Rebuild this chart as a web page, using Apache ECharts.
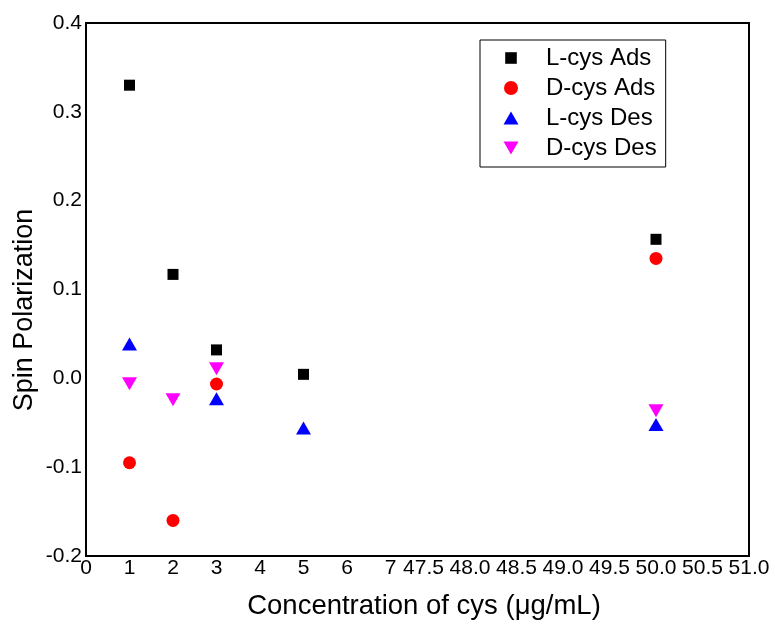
<!DOCTYPE html>
<html>
<head>
<meta charset="utf-8">
<script src="https://cdn.jsdelivr.net/npm/echarts@6/dist/echarts.min.js"></script>
<style>html,body{margin:0;padding:0;background:#fff;}#c{width:775px;height:624px;}</style>
</head>
<body>
<div id="c"></div>
<script>
// Data
const xValues = [1, 2, 3, 5, 50];
const lCysAds = [0.330, 0.117, 0.032, 0.0045, 0.1565];
const dCysAds = [-0.095, -0.160, -0.0064, null, 0.135];
const lCysDes = [0.0386, null, -0.023, -0.056, -0.052];
const dCysDes = [-0.006, -0.024, 0.0108, null, -0.0366];
const seriesNames = ['L-cys Ads', 'D-cys Ads', 'L-cys Des', 'D-cys Des'];
const xTicksLeft = [0, 1, 2, 3, 4, 5, 6, 7];
const xTicksRight = [47.5, 48.0, 48.5, 49.0, 49.5, 50.0, 50.5, 51.0];
const yTicks = [-0.2, -0.1, 0.0, 0.1, 0.2, 0.3, 0.4];

const FONT = 'Liberation Sans, Arial, Helvetica, sans-serif';
const allValues = [lCysAds, dCysAds, lCysDes, dCysDes];
const styles = [
  { symbol: 'rect', symbolSize: [11, 11], color: '#000000', rotate: 0 },
  { symbol: 'circle', symbolSize: 13, color: '#ff0000', rotate: 0 },
  { symbol: 'triangle', symbolSize: [15, 13], color: '#0000ff', rotate: 0 },
  { symbol: 'triangle', symbolSize: [15, 13], color: '#ff00ff', rotate: 180 }
];
// legend icons: drawn inside a 60x14 box, centred
const legendIcons = [
  'path://M0,0M60,14M24.2,1.2L35.8,1.2L35.8,12.8L24.2,12.8Z',
  'path://M0,0M60,14M30,0A7,7 0 1,1 30,14A7,7 0 1,1 30,0Z',
  'path://M0,0M60,14M30,0.5L37.5,13.5L22.5,13.5Z',
  'path://M0,0M60,14M22.5,0.5L37.5,0.5L30,13.5Z'
];

function pts(vals, lo, hi) {
  const out = [];
  xValues.forEach((x, i) => {
    if (vals[i] !== null && x >= lo && x <= hi) out.push([x, vals[i]]);
  });
  return out;
}

const series = [];
allValues.forEach((vals, k) => {
  [[0, xTicksLeft[0], xTicksLeft[xTicksLeft.length - 1]],
   [1, xTicksRight[0], xTicksRight[xTicksRight.length - 1]]].forEach(([g, lo, hi]) => {
    series.push({
      type: 'scatter',
      name: seriesNames[k],
      xAxisIndex: g,
      yAxisIndex: g,
      symbol: styles[k].symbol,
      symbolSize: styles[k].symbolSize,
      symbolRotate: styles[k].rotate,
      itemStyle: { color: styles[k].color, opacity: 1 },
      emphasis: { disabled: true },
      data: pts(vals, lo, hi)
    });
  });
});

const yAxisCommon = {
  type: 'value',
  min: yTicks[0],
  max: yTicks[yTicks.length - 1],
  interval: 0.1,
  splitLine: { show: false },
  axisTick: { show: false },
  axisLine: { show: false }
};

const chart = echarts.init(document.getElementById('c'));
chart.setOption({
  animation: false,
  backgroundColor: '#ffffff',
  grid: [
    { left: 86, top: 23, width: 304.5, height: 533 },
    { left: 423.5, top: 23, width: 325.5, height: 533 },
    { left: 86, top: 23, width: 663, height: 533, show: true, borderColor: '#000', borderWidth: 2, backgroundColor: 'transparent', z: 10 }
  ],
  xAxis: [
    {
      type: 'value', gridIndex: 0,
      min: xTicksLeft[0], max: xTicksLeft[xTicksLeft.length - 1], interval: 1,
      splitLine: { show: false }, axisTick: { show: false }, axisLine: { show: false },
      axisLabel: { color: '#000', fontFamily: FONT, fontSize: 21, margin: 2, formatter: v => String(v) }
    },
    {
      type: 'value', gridIndex: 1,
      min: xTicksRight[0], max: xTicksRight[xTicksRight.length - 1], interval: 0.5,
      splitLine: { show: false }, axisTick: { show: false }, axisLine: { show: false },
      axisLabel: { color: '#000', fontFamily: FONT, fontSize: 21, margin: 2, formatter: v => v.toFixed(1) }
    },
    { type: 'value', gridIndex: 2, show: false, min: 0, max: 1 }
  ],
  yAxis: [
    Object.assign({}, yAxisCommon, {
      gridIndex: 0,
      axisLabel: { color: '#000', fontFamily: FONT, fontSize: 21, margin: 4, formatter: v => v.toFixed(1) }
    }),
    Object.assign({}, yAxisCommon, { gridIndex: 1, axisLabel: { show: false } }),
    { type: 'value', gridIndex: 2, show: false, min: 0, max: 1 }
  ],
  legend: {
    orient: 'vertical',
    left: 480,
    top: 40,
    borderColor: '#000',
    borderWidth: 1,
    padding: [3, 9, 4, 1],
    itemGap: 0,
    itemWidth: 60,
    itemHeight: 14,
    selectedMode: false,
    textStyle: { color: '#000', fontFamily: FONT, fontSize: 24, lineHeight: 30 },
    data: seriesNames.map((n, k) => ({ name: n, icon: legendIcons[k], itemStyle: { color: styles[k].color } }))
  },
  graphic: [
    {
      type: 'text', x: 25, y: 310, rotation: Math.PI / 2,
      style: { text: 'Spin Polarization', fill: '#000', font: '27px ' + FONT, align: 'center', verticalAlign: 'middle' }
    },
    {
      type: 'text', x: 424, y: 606,
      style: { text: 'Concentration of cys (\u03bcg/mL)', fill: '#000', font: '27.5px ' + FONT, align: 'center', verticalAlign: 'middle' }
    }
  ],
  series: series
});
</script>
</body>
</html>
